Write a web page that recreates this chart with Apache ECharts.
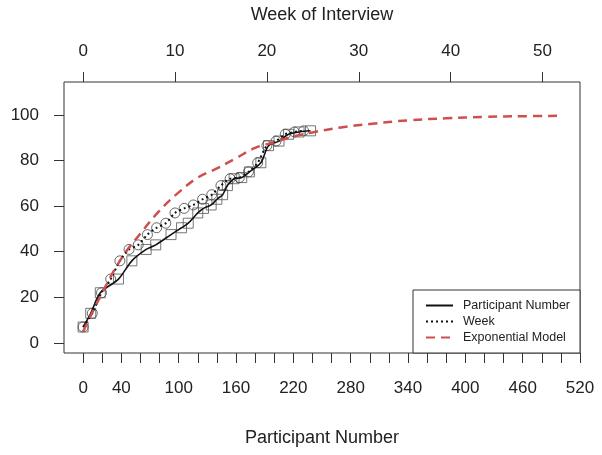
<!DOCTYPE html>
<html>
<head>
<meta charset="utf-8">
<script src="https://cdn.jsdelivr.net/npm/echarts@6/dist/echarts.min.js"></script>
<style>
html,body{margin:0;padding:0;background:#fff;}
#c{width:602px;height:455px;}
</style>
</head>
<body>
<div id="c"></div>
<script>
// Data
const weeks = [0,1,2,3,4,5,6,7,8,9,10,11,12,13,14,15,16,17,18,19,20,21,22,23,24];
const participants = [0,8,18,37,51,66,76,92,103,110,120,126,134,140,146,151,158,166,174,186,194,205,215,226,238];
const percent = [7,13,22,28,36,41,43,47.5,50.5,52.5,57,59,60.5,63,65,69,72,72.5,75,79,86.5,88.5,91.5,92.5,93];
const modelX = [0,20,40,60,80,100,120,140,160,180,200,220,240,270,300,340,380,420,460,500];
const modelY = [5,22,37,48,58,66,72.5,76.5,81,85.5,88,90.5,92.3,94.5,96,97.6,98.5,99.1,99.4,99.6];
const bottomTicks = [0,20,40,60,80,100,120,140,160,180,200,220,240,260,280,300,320,340,360,380,400,420,440,460,480,500,520];
const bottomLabels = [0,40,100,160,220,280,340,400,460,520];
const topTicks = [0,10,20,30,40,50];
const yTicks = [0,20,40,60,80,100];

const partData = participants.map((p,i)=>[p, percent[i]]);
const weekData = weeks.map((w,i)=>[w, percent[i]]);
const modelData = modelX.map((x,i)=>[x, modelY[i]]);

const font = 'Liberation Sans, Arial, sans-serif';
const txt = '#222';
const chart = echarts.init(document.getElementById('c'), null, {renderer:'canvas'});
chart.setOption({
  animation:false,
  backgroundColor:'#fff',
  grid:{left:64,right:22,top:82,bottom:102,show:true,borderColor:'#333',borderWidth:1,backgroundColor:'transparent'},
  xAxis:[
    {type:'value',position:'bottom',min:-20,max:520,
     name:'Participant Number',nameLocation:'middle',nameGap:76,
     nameTextStyle:{fontFamily:font,fontSize:18,color:txt},
     axisLine:{show:false,onZero:false},splitLine:{show:false},
     axisTick:{show:true,length:10,customValues:bottomTicks,lineStyle:{color:'#333'}},
     axisLabel:{customValues:bottomLabels,margin:27,fontFamily:font,fontSize:17,color:txt}},
    {type:'value',position:'top',min:-2.08,max:54.08,
     name:'Week of Interview',nameLocation:'middle',nameGap:58,
     nameTextStyle:{fontFamily:font,fontSize:18,color:txt},
     axisLine:{show:false,onZero:false},splitLine:{show:false},
     axisTick:{show:true,length:10,customValues:topTicks,lineStyle:{color:'#333'}},
     axisLabel:{customValues:topTicks,margin:22,fontFamily:font,fontSize:17,color:txt}}
  ],
  yAxis:{type:'value',min:-4.4,max:114.4,
     axisLine:{show:false,onZero:false},splitLine:{show:false},
     axisTick:{show:true,length:10,customValues:yTicks,lineStyle:{color:'#333'}},
     axisLabel:{customValues:yTicks,margin:25,fontFamily:font,fontSize:17,color:txt}},
  legend:{
    data:['Participant Number','Week','Exponential Model'],
    orient:'vertical',right:22,bottom:102,
    backgroundColor:'#fff',borderColor:'#333',borderWidth:1,
    padding:[9,10,9,12],itemWidth:27,itemHeight:14,itemGap:3,
    itemStyle:{opacity:0},
    textStyle:{fontFamily:font,fontSize:12.5,color:txt,padding:[0,0,0,5]}
  },
  series:[
    {name:'Participant Number',type:'line',xAxisIndex:0,data:partData,symbol:'none',smooth:0.3,
     lineStyle:{color:'#111',width:1.6,type:'solid'},itemStyle:{color:'#111'},z:3},
    {name:'Week',type:'line',xAxisIndex:1,data:weekData,symbol:'none',smooth:0.3,
     lineStyle:{color:'#111',width:2,type:[2,3]},itemStyle:{color:'#111'},z:3},
    {name:'Exponential Model',type:'line',xAxisIndex:0,data:modelData,symbol:'none',smooth:0.4,
     lineStyle:{color:'#cd4f4f',width:2.5,type:[9,6]},itemStyle:{color:'#cd4f4f'},z:4},
    {name:'pmarks',type:'scatter',xAxisIndex:0,data:partData,symbol:'rect',symbolSize:10,
     itemStyle:{color:'rgba(0,0,0,0)',borderColor:'#555',borderWidth:1},z:2},
    {name:'wmarks',type:'scatter',xAxisIndex:1,data:weekData,symbol:'circle',symbolSize:10,
     itemStyle:{color:'rgba(0,0,0,0)',borderColor:'#444',borderWidth:1},z:2}
  ]
});
</script>
</body>
</html>
